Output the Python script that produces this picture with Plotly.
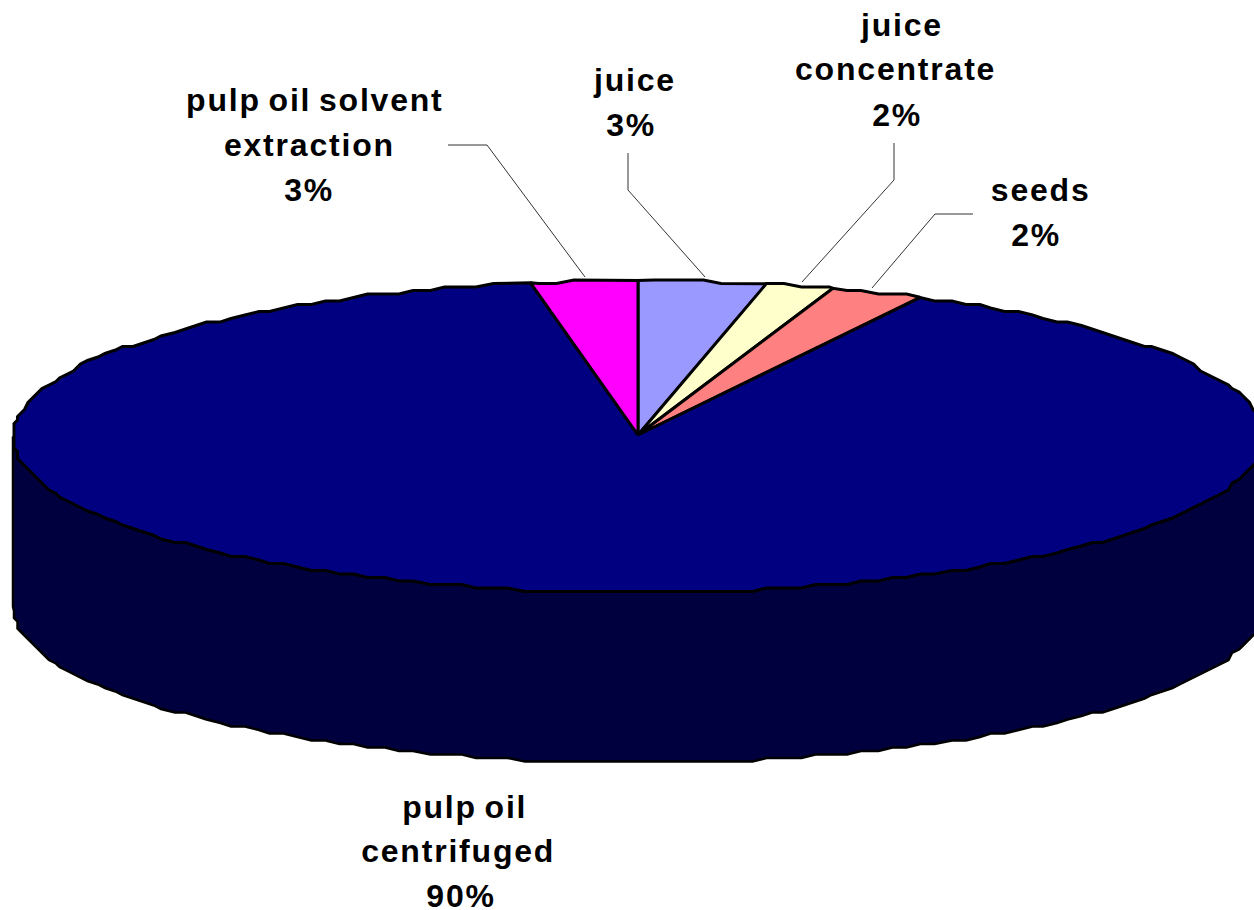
import math
import numpy as np
import plotly.graph_objects as go

# --- data (clockwise from 12 o'clock) ---
categories = ["juice", "juice concentrate", "seeds", "pulp oil centrifuged", "pulp oil solvent extraction"]
values = [3.3, 1.75, 2.4, 89.8, 2.75]
colors = ["#9999FF", "#FFFFCC", "#FF8080", "#000080", "#FF00FF"]
side_color = "#00003F"
label_lines = [
    ["juice"],
    ["juice", "concentrate"],
    ["seeds"],
    ["pulp oil", "centrifuged"],
    ["pulp oil solvent", "extraction"],
]

# --- layout of the drawing ---
W, H = 1254, 910
CX, CY, RX, RY, DEPTH = 638, 436.5, 625, 156, 170
APEX_Y = 435
SNAP = 3.5
STEP = math.radians(1.5)
label_xs = [[634, 631], [901, 895, 897], [1040, 1036], [464, 458, 461], [315, 309, 309]]
label_ys = [[80, 125], [25, 69, 115], [190, 235], [807, 851, 896], [100, 145, 190]]
leaders_x = [[628, 628, 705], [894, 894, 802], [973, 935, 872], None, [448, 487, 585]]
leaders_y = [[153, 190, 277], [143, 180, 282], [214, 214, 288], None, [145, 145, 277]]


def rim(a0, a1):
    """Projected rim points between two pie angles (radians clockwise from top).
    Interior vertices sit on a shared coarse grid, giving the faceted outline."""
    k0 = math.floor(a0 / STEP + 1e-9) + 1
    k1 = math.ceil(a1 / STEP - 1e-9) - 1
    grid = np.arange(k0, k1 + 1) * STEP
    gx = np.round((CX + RX * np.sin(grid)) / SNAP) * SNAP
    gy = np.round((CY - RY * np.cos(grid)) / SNAP) * SNAP
    x = np.concatenate([[CX + RX * math.sin(a0)], gx, [CX + RX * math.sin(a1)]])
    y = np.concatenate([[CY - RY * math.cos(a0)], gy, [CY - RY * math.cos(a1)]])
    return x, y


fig = go.Figure()

# side wall: front half of the disc
fx, fy = rim(math.pi / 2, 3 * math.pi / 2)
fig.add_trace(go.Scatter(
    x=np.concatenate([fx, fx[::-1]]), y=np.concatenate([fy, fy[::-1] + DEPTH]),
    mode="lines", fill="toself", fillcolor=side_color,
    line=dict(color="#000000", width=2.5), hoverinfo="skip", showlegend=False))

# top slices
total = sum(values)
angle = 0.0
for name, v, c in zip(categories, values, colors):
    a1 = angle + 2 * math.pi * v / total
    rx_, ry_ = rim(angle, a1)
    fig.add_trace(go.Scatter(
        x=np.concatenate([[CX], rx_, [CX]]), y=np.concatenate([[APEX_Y], ry_, [APEX_Y]]),
        mode="lines", fill="toself", fillcolor=c, name=name,
        line=dict(color="#000000", width=3), hoverinfo="skip", showlegend=False))
    angle = a1

# leader lines
for lx, ly in zip(leaders_x, leaders_y):
    if lx is not None:
        fig.add_trace(go.Scatter(x=lx, y=ly, mode="lines", line=dict(color="#333333", width=1),
                                 hoverinfo="skip", showlegend=False))

# labels
annotations = []
for lines, v, xs, ys in zip(label_lines, values, label_xs, label_ys):
    texts = lines + [f"{round(v)}%"]
    for t, x, y in zip(texts, xs, ys):
        annotations.append(dict(x=x, y=y, text=t, showarrow=False, xanchor="center", yanchor="middle",
                                font=dict(family="Liberation Sans", size=32, color="#000000")))

fig.update_layout(
    width=W, height=H, margin=dict(l=0, r=0, t=0, b=0),
    paper_bgcolor="#FFFFFF", plot_bgcolor="#FFFFFF", showlegend=False,
    xaxis=dict(range=[0, W], visible=False, fixedrange=True),
    yaxis=dict(range=[H, 0], visible=False, fixedrange=True),
    annotations=annotations,
)

post = """
document.body.style.margin='0';
document.body.style.overflow='hidden';
var s=document.createElement('style');
s.textContent='.annotation-text{font-weight:bold !important;letter-spacing:1.8px;word-spacing:-3px;-webkit-text-stroke:0.5px #000;}';
document.head.appendChild(s);
"""
fig.write_html("out.html", post_script=post, config={"displayModeBar": False})
